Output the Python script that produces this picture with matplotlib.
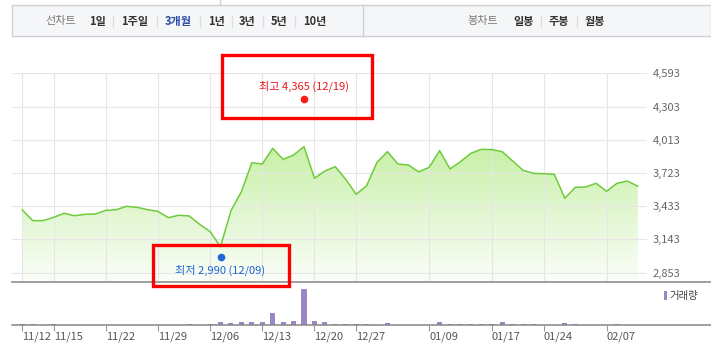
import numpy as np
import matplotlib
matplotlib.use("Agg")
import matplotlib.pyplot as plt
from matplotlib.patches import Rectangle, PathPatch
from matplotlib.lines import Line2D
from matplotlib.colors import LinearSegmentedColormap

plt.rcParams['font.family'] = ['Noto Sans CJK KR', 'DejaVu Sans']

W, H = 711, 364

# trading days (category axis)
dates = ['11/12', '11/13', '11/14', '11/15', '11/16', '11/19', '11/20', '11/21', '11/22', '11/23',
         '11/26', '11/27', '11/28', '11/29', '11/30', '12/03', '12/04', '12/05', '12/06', '12/07',
         '12/10', '12/11', '12/12', '12/13', '12/14', '12/17', '12/18', '12/19', '12/20', '12/21',
         '12/24', '12/26', '12/27', '12/28', '01/02', '01/03', '01/04', '01/07', '01/08', '01/09',
         '01/10', '01/11', '01/14', '01/15', '01/16', '01/17', '01/18', '01/21', '01/22', '01/23',
         '01/24', '01/28', '01/29', '01/30', '01/31', '02/01', '02/07', '02/08', '02/11', '02/12']

close = [3400, 3307, 3307, 3336, 3371, 3350, 3362, 3365, 3397, 3403,
         3432, 3423, 3403, 3388, 3333, 3354, 3348, 3275, 3211, 3080,
         3394, 3560, 3813, 3801, 3938, 3842, 3880, 3953, 3677, 3740,
         3778, 3668, 3537, 3612, 3816, 3909, 3801, 3793, 3732, 3773,
         3918, 3758, 3822, 3895, 3930, 3927, 3909, 3828, 3746, 3720,
         3717, 3711, 3502, 3598, 3601, 3633, 3563, 3633, 3653, 3607]

volume = [13000, 13000, 0, 13000, 0, 0, 0, 0, 0, 0,
          0, 0, 0, 0, 0, 0, 13000, 0, 13000, 30000,
          20000, 30000, 30000, 30000, 123000, 30000, 40000, 360000, 40000, 30000,
          13000, 13000, 13000, 13000, 0, 23000, 0, 0, 0, 0,
          30000, 13000, 13000, 13000, 13000, 13000, 30000, 13000, 13000, 13000,
          0, 0, 20000, 13000, 0, 0, 0, 13000, 0, 0]

tick_labels = ['11/12', '11/15', '11/22', '11/29', '12/06', '12/13', '12/20', '12/27',
               '01/09', '01/17', '01/24', '02/07']
price_ticks = [2853, 3143, 3433, 3723, 4013, 4303, 4593]

high_val, high_date, high_idx = 4365, '12/19', 27
low_val, low_date, low_idx = 2990, '12/09', 19

x = np.arange(len(close))
tick_pos = [dates.index(t) for t in tick_labels]

def fx(px):
    return px / W

def fy(py):
    return 1 - py / H

fig = plt.figure(figsize=(W / 100, H / 100), dpi=100)

# ---- top menu bar
fig.add_artist(Rectangle((fx(12), fy(36)), fx(711) - fx(12), fy(5) - fy(36),
                         transform=fig.transFigure, facecolor='#f5f6f8',
                         edgecolor='#cdd0d5', lw=1))
fig.add_artist(Line2D([fx(363), fx(363)], [fy(36), fy(5)], color='#cdd0d5', lw=1))
fig.add_artist(Line2D([fx(220), fx(220)], [fy(5), fy(0)], color='#cdd0d5', lw=1))

menu_left = [('선차트', 61, 'gray'), ('1일', 97.5, 'b'), ('1주일', 134.5, 'b'),
             ('3개월', 178, 'sel'), ('1년', 216.5, 'b'), ('3년', 247.5, 'b'),
             ('5년', 279, 'b'), ('10년', 314.5, 'b'),
             ('봉차트', 483, 'gray'), ('일봉', 524, 'b'), ('주봉', 558.5, 'b'), ('월봉', 595, 'b')]
for txt, cx, st in menu_left:
    if st == 'gray':
        fig.text(fx(cx), fy(21), txt, color='#7a7a7a', fontsize=8, ha='center', va='center')
    elif st == 'sel':
        fig.text(fx(cx), fy(21), txt, color='#2b4ba6', fontsize=8, fontweight='bold',
                 ha='center', va='center')
    else:
        fig.text(fx(cx), fy(21), txt, color='#333333', fontsize=8, fontweight='bold',
                 ha='center', va='center')
for sx in [113, 157, 200, 232, 263, 295, 541, 577]:
    fig.add_artist(Line2D([fx(sx), fx(sx)], [fy(27), fy(16)], color='#dddddd', lw=1))

# ---- price axes
ax = fig.add_axes([fx(12), fy(282.3), fx(646.7) - fx(12), fy(73.3) - fy(282.3)])
ymin, ymax = 2769, 4593
xmin, xmax = -0.99, 59.85
ax.set_xlim(xmin, xmax)
ax.set_ylim(ymin, ymax)

poly = ax.fill_between(x, close, ymin, color='none', lw=0)
path = poly.get_paths()[0]
clip = PathPatch(path, transform=ax.transData, facecolor='none', edgecolor='none')
ax.add_patch(clip)
cmap = LinearSegmentedColormap.from_list('g', ['#fbfef9', '#e2f7d2', '#c8f0a6'])
grad = np.linspace(0, 1, 256).reshape(-1, 1)
im = ax.imshow(grad, extent=[xmin, xmax, ymin, max(close)], aspect='auto',
               origin='lower', cmap=cmap, zorder=1)
im.set_clip_path(clip)

for p in price_ticks:
    ax.axhline(p, color='#e6e6e6', lw=0.8, zorder=2)
for t in tick_pos:
    ax.axvline(t, color='#e6e6e6', lw=0.8, zorder=2)

ax.plot(x, close, color='#6fcb3c', lw=1.1, zorder=3)

ax.plot(high_idx, high_val, 'o', color='#ff1a1a', ms=4.5, zorder=5)
ax.annotate('최고 %s (%s)' % (format(high_val, ','), high_date), (high_idx, high_val),
            xytext=(0, 13), textcoords='offset pixels', ha='center', va='center',
            color='#e8141b', fontsize=8)
ax.plot(low_idx, low_val, 'o', color='#1f66d6', ms=4.5, zorder=5)
ax.annotate('최저 %s (%s)' % (format(low_val, ','), low_date), (low_idx, low_val),
            xytext=(0, -13), textcoords='offset pixels', ha='center', va='center',
            color='#1f66d6', fontsize=8)

ax.set_xticks([])
ax.yaxis.tick_right()
ax.set_yticks(price_ticks)
ax.set_yticklabels([format(p, ',') for p in price_ticks], color='#666666', fontsize=8)
ax.tick_params(axis='y', length=0, pad=4.5)
for s in ax.spines.values():
    s.set_visible(False)
ax.patch.set_alpha(0)

# ---- volume axes
vax = fig.add_axes([fx(12), fy(325), fx(646.7) - fx(12), fy(285) - fy(325)])
vax.set_xlim(xmin, xmax)
vax.set_ylim(0, max(volume) / 0.9)
vax.bar(x, volume, width=0.48, color='#9b86c6')
vax.set_yticks([])
vax.set_xticks(tick_pos)
vax.set_xticklabels(tick_labels, ha='left', color='#555555', fontsize=8)
vax.tick_params(axis='x', length=4, width=0.8, color='#999999', pad=1)
for s in vax.spines.values():
    s.set_visible(False)
vax.patch.set_alpha(0)

fig.add_artist(Rectangle((fx(664), fy(300)), fx(3), fy(291) - fy(300),
                         transform=fig.transFigure, facecolor='#9b86c6', lw=0))
fig.text(fx(669), fy(295.5), '거래량', color='#444444', fontsize=7.5, ha='left', va='center')

# axis lines spanning to the right edge
for yy in [282.3, 325]:
    fig.add_artist(Line2D([fx(12), fx(711)], [fy(yy), fy(yy)], color='#868686', lw=1.1))

# highlight boxes
for (x0, y0, x1, y1) in [(221.7, 55, 372.3, 117.7), (152.7, 245, 289.3, 286)]:
    fig.add_artist(Rectangle((fx(x0), fy(y1)), fx(x1) - fx(x0), fy(y0) - fy(y1),
                             transform=fig.transFigure, facecolor='none',
                             edgecolor='#ff0000', lw=2.4, zorder=10))

fig.savefig('out.png', dpi=100)
